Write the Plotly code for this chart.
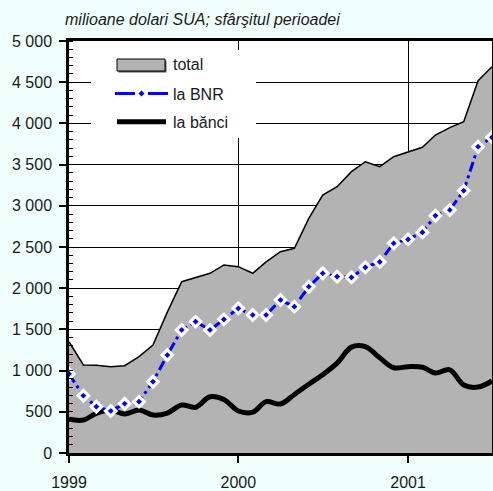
import plotly.graph_objects as go

# ---- data (USD millions, end of period, monthly Jan 1999 - Jul 2001) ----
months = [f"{1999 + (i // 12)}-{(i % 12) + 1:02d}-01" for i in range(31)]
total = [1350, 1068, 1064, 1047, 1060, 1169, 1311, 1710, 2079, 2132,
         2181, 2282, 2261, 2181, 2320, 2443, 2484, 2848, 3131, 3232,
         3414, 3535, 3475, 3596, 3657, 3710, 3859, 3948, 4021, 4518, 4688]
la_bnr = [959, 695, 562, 510, 598, 623, 865, 1189, 1493, 1594,
          1493, 1622, 1756, 1675, 1675, 1857, 1776, 2018, 2181, 2140,
          2132, 2253, 2320, 2545, 2593, 2678, 2880, 2949, 3183, 3717, 3831]
la_banci = [409, 400, 481, 522, 473, 522, 461, 485, 583, 555,
            683, 650, 510, 495, 623, 595, 710, 835, 950, 1090,
            1285, 1290, 1155, 1035, 1048, 1040, 970, 1010, 825, 800, 874]

y_tickvals = [0, 500, 1000, 1500, 2000, 2500, 3000, 3500, 4000, 4500, 5000]
y_ticktext = ["0", "500", "1 000", "1 500", "2 000", "2 500", "3 000",
              "3 500", "4 000", "4 500", "5 000"]
x_tickvals = ["1999-01-01", "2000-01-01", "2001-01-01"]
x_ticktext = ["1999", "2000", "2001"]
legend_labels = ["total", "la BNR", "la bănci"]
title_text = "milioane dolari SUA; sfârşitul perioadei"

FONT = "Liberation Sans, Arial, sans-serif"
TXT = "#1a1a1a"
BG = "#f0fffc"

# plot area in pixels: x 69..492, y 41..453
L, R, T, B = 69, 492, 41, 453
def px(x):
    return (x - L) / (R - L)
def py(y):
    return (B - y) / (B - T)

fig = go.Figure()
fig.add_trace(go.Scatter(x=months, y=total, name=legend_labels[0], mode="lines",
                         fill="tozeroy", fillcolor="#b3b3b3",
                         line=dict(color="black", width=1.5), showlegend=False))
fig.add_trace(go.Scatter(x=months, y=la_banci, name=legend_labels[2], mode="lines",
                         line=dict(color="black", width=5, shape="spline", smoothing=1.0),
                         showlegend=False))
fig.add_trace(go.Scatter(x=months, y=la_bnr, name=legend_labels[1], mode="lines+markers",
                         line=dict(color="#0000ff", width=3, dash="10px,4px,3px,4px"),
                         marker=dict(symbol="diamond", size=8, color="#0000ff",
                                     line=dict(color="white", width=3.2)),
                         showlegend=False))

shapes = [
    dict(type="rect", xref="paper", yref="paper", x0=px(91), x1=px(256), y0=py(138), y1=py(50),
         fillcolor="white", line=dict(width=0), layer="above"),
    dict(type="rect", xref="paper", yref="paper", x0=px(118.5), x1=px(166.5), y0=py(72.5), y1=py(60.5),
         fillcolor="#555555", line=dict(width=0), layer="above"),
    dict(type="rect", xref="paper", yref="paper", x0=px(117), x1=px(165), y0=py(71), y1=py(59),
         fillcolor="#b3b3b3", line=dict(color="black", width=1), layer="above"),
    dict(type="line", xref="paper", yref="paper", x0=px(115), x1=px(168), y0=py(93.5), y1=py(93.5),
         line=dict(color="#0000ff", width=3, dash="20px,5px,3px,5px"), layer="above"),
    dict(type="path", xref="paper", yref="paper", layer="above",
         path=f"M{px(141.5)},{py(90.5)} L{px(144.5)},{py(93.5)} L{px(141.5)},{py(96.5)} L{px(138.5)},{py(93.5)} Z",
         fillcolor="#0000ff", line=dict(width=0)),
    dict(type="line", xref="paper", yref="paper", x0=px(117), x1=px(166), y0=py(121.7), y1=py(121.7),
         line=dict(color="black", width=5), layer="above"),
]

annotations = [
    dict(text=title_text, xref="paper", yref="paper", x=px(63), y=py(20),
         xanchor="left", yanchor="middle", showarrow=False,
         font=dict(family=FONT, size=16, color=TXT, style="italic")),
]
for lab, yy in zip(legend_labels, [65, 94, 122]):
    annotations.append(dict(text=lab, xref="paper", yref="paper", x=px(171), y=py(yy),
                            xanchor="left", yanchor="middle", showarrow=False,
                            font=dict(family=FONT, size=16, color=TXT)))

fig.update_layout(
    width=493, height=491,
    margin=dict(l=L, r=493 - R, t=T, b=491 - B, pad=0, autoexpand=False),
    paper_bgcolor=BG, plot_bgcolor="white",
    font=dict(family=FONT, size=16, color=TXT),
    showlegend=False,
    shapes=shapes, annotations=annotations,
    xaxis=dict(type="date", range=["1999-01-01", "2001-07-01"],
               tickvals=x_tickvals, ticktext=x_ticktext, automargin=False,
               showline=True, linecolor="black", linewidth=2.5, mirror=True,
               ticks="outside", ticklen=7, tickwidth=1.5, tickcolor="black",
               ticklabelstandoff=6,
               showgrid=True, gridcolor="black", gridwidth=1, zeroline=False,
               tickfont=dict(family=FONT, size=16, color=TXT)),
    yaxis=dict(range=[0, 5000], tickvals=y_tickvals, ticktext=y_ticktext,
               automargin=False,
               showline=True, linecolor="black", linewidth=2.5, mirror=True,
               ticks="outside", ticklen=7, tickwidth=1.5, tickcolor="black",
               ticklabelstandoff=4,
               showgrid=True, gridcolor="black", gridwidth=1, zeroline=False,
               minor=dict(dtick=100, ticks="inside", ticklen=4, tickwidth=1,
                          tickcolor="black", showgrid=False),
               tickfont=dict(family=FONT, size=16, color=TXT)),
)

fig.write_html("out.html",
               config={"displayModeBar": False},
               post_script="document.body.style.margin='0';"
                           "document.body.style.padding='0';"
                           "document.body.style.overflow='hidden';"
                           "document.body.style.background='" + BG + "';")
